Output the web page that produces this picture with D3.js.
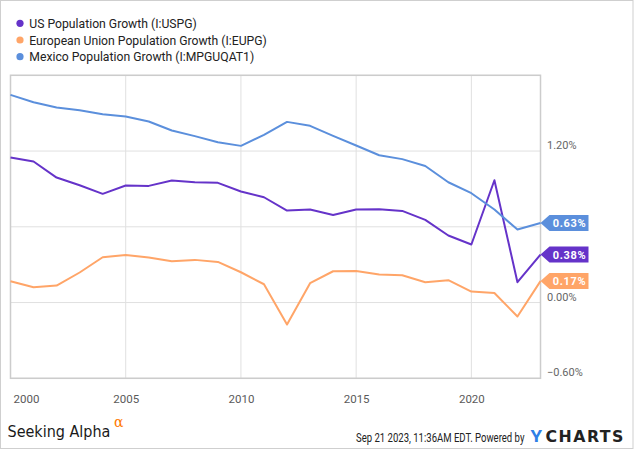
<!DOCTYPE html>
<html>
<head>
<meta charset="utf-8">
<script src="https://cdn.jsdelivr.net/npm/d3@7"></script>
<style>
  html, body { margin: 0; padding: 0; background: #fff; }
  svg { display: block; font-family: Roboto, "Noto Sans", sans-serif; }
</style>
</head>
<body>
<svg id="chart" width="635" height="450"></svg>
<script>
// ---- data ----
const years = [2000,2001,2002,2003,2004,2005,2006,2007,2008,2009,2010,2011,2012,2013,2014,2015,2016,2017,2018,2019,2020,2021,2022,2023];
const usGrowth = [1.149,1.117,0.990,0.929,0.861,0.927,0.924,0.967,0.953,0.948,0.880,0.834,0.729,0.737,0.694,0.737,0.739,0.726,0.655,0.531,0.460,0.969,0.161,0.38];
const euGrowth = [0.169,0.121,0.135,0.238,0.359,0.377,0.357,0.327,0.338,0.322,0.240,0.145,-0.174,0.153,0.248,0.250,0.222,0.216,0.161,0.177,0.087,0.076,-0.111,0.17];
const mxGrowth = [1.645,1.587,1.545,1.524,1.492,1.474,1.434,1.363,1.318,1.270,1.241,1.328,1.431,1.400,1.320,1.244,1.167,1.136,1.082,0.953,0.866,0.737,0.578,0.63];
const seriesNames = ["US Population Growth (I:USPG)", "European Union Population Growth (I:EUPG)", "Mexico Population Growth (I:MPGUQAT1)"];
const seriesColors = ["#6533c9", "#ffa568", "#5b8fdc"];
const xTickYears = [2000, 2005, 2010, 2015, 2020];
const yGridValues = [1.8, 1.2, 0.6, 0.0, -0.6];
const yTickLabels = [1.2, 0.0, -0.6];

const series = [usGrowth, euGrowth, mxGrowth];

const svg = d3.select("#chart");

// outer border
svg.append("rect").attr("x", 0.5).attr("y", 0.5).attr("width", 632.5).attr("height", 448)
  .attr("fill", "none").attr("stroke", "#cfcfcf").attr("stroke-width", 1);

const x = d3.scaleLinear().domain([2000, 2023]).range([10.5, 540.5]);
const y = d3.scaleLinear().domain([-0.6, 1.8]).range([378.3, 75.3]);

// gridlines
const grid = svg.append("g");
grid.selectAll("line.h").data(yGridValues).join("line")
  .attr("x1", x(2000)).attr("x2", x(2023))
  .attr("y1", d => y(d)).attr("y2", d => y(d))
  .attr("stroke", "#e0e0e0").attr("stroke-width", 1);
grid.selectAll("line.v").data(xTickYears.filter(d => d > 2000)).join("line")
  .attr("x1", d => x(d)).attr("x2", d => x(d))
  .attr("y1", y(1.8)).attr("y2", y(-0.6))
  .attr("stroke", "#e0e0e0").attr("stroke-width", 1);

// plot border
svg.append("rect").attr("x", x(2000)).attr("y", y(1.8))
  .attr("width", x(2023) - x(2000)).attr("height", y(-0.6) - y(1.8))
  .attr("fill", "none").attr("stroke", "#cccccc").attr("stroke-width", 1.5);

// x axis labels
const xAxis = d3.axisBottom(x).tickValues(xTickYears).tickFormat(d3.format("d")).tickSize(0).tickPadding(0);
const gx = svg.append("g").attr("transform", `translate(0, ${y(-0.6)})`).call(xAxis);
gx.select(".domain").remove();
gx.selectAll("text")
  .attr("y", 24.5).attr("dy", null)
  .attr("fill", "#5a5a5a").style("font-size", "11.5px").style("font-family", "Roboto, sans-serif")
  .attr("text-anchor", d => d === 2000 ? "start" : "middle")
  .attr("x", d => d === 2000 ? 2.5 : 0);

// y axis labels (right)
const yAxis = d3.axisRight(y).tickValues(yTickLabels).tickFormat(d => d3.format(".2f")(d).replace("-0.00","0.00") + "%").tickSize(0).tickPadding(0);
const gy = svg.append("g").attr("transform", `translate(${x(2023) + 6.5}, 0)`).call(yAxis);
gy.select(".domain").remove();
gy.selectAll("text")
  .attr("dy", null).attr("y", -2.5).attr("x", 0)
  .attr("fill", "#666").style("font-size", "11px").style("font-family", "Roboto, sans-serif")
  .attr("text-anchor", "start");

// lines
const line = d3.line().x((d, i) => x(years[i])).y(d => y(d));
svg.append("g").selectAll("path").data(series).join("path")
  .attr("d", d => line(d))
  .attr("fill", "none")
  .attr("stroke", (d, i) => seriesColors[i])
  .attr("stroke-width", 2)
  .attr("stroke-linejoin", "round");

// end flags
const flags = svg.append("g");
series.forEach((s, i) => {
  const v = s[s.length - 1];
  const cy = y(v);
  const x0 = x(2023);
  const g = flags.append("g");
  g.append("path")
    .attr("d", `M${x0},${cy} L${x0 + 9},${cy - 8} L${x0 + 48},${cy - 8} L${x0 + 48},${cy + 8} L${x0 + 9},${cy + 8} Z`)
    .attr("fill", seriesColors[i]);
  g.append("text")
    .attr("x", x0 + 29).attr("y", cy + 4)
    .attr("text-anchor", "middle")
    .attr("fill", "#fff")
    .style("font-size", "11px").style("font-weight", "bold").style("letter-spacing", "0.6px")
    .text(d3.format(".2f")(v) + "%");
});

// legend
const legend = svg.append("g");
seriesNames.forEach((name, i) => {
  const ly = 23.3 + i * 16.7;
  legend.append("circle").attr("cx", 20).attr("cy", ly).attr("r", 3.6).attr("fill", seriesColors[i]);
  legend.append("text").attr("x", 29.3).attr("y", ly + 4.5)
    .attr("fill", "#222").style("font-size", "12.2px")
    .text(name);
});

// helper: place text at (tx, ty) and horizontally scale it to a target width
function fitText(str, tx, ty, width, font, size, weight, fill, spacing) {
  const t = svg.append("text").attr("x", 0).attr("y", 0)
    .style("font-family", font).style("font-size", size + "px").style("font-weight", weight)
    .style("letter-spacing", (spacing || 0) + "px")
    .attr("fill", fill).text(str);
  const w = t.node().getBBox().width;
  const k = width / w;
  t.attr("transform", `translate(${tx},${ty}) scale(${k},1)`);
  return t;
}

// footer: Seeking Alpha
fitText("Seeking Alpha", 7.5, 437, 103, "'DejaVu Sans', sans-serif", 15.5, "normal", "#1a1a1a", 0);
svg.append("text").attr("x", 114).attr("y", 427)
  .style("font-family", "'DejaVu Serif', serif").style("font-size", "14px")
  .attr("fill", "#ff7a00")
  .text("α");

// footer right
fitText("Sep 21 2023, 11:36AM EDT.  Powered by", 356, 441.5, 169, "Roboto, sans-serif", 12, "normal", "#222", 0);
fitText("Y", 530.5, 442, 12.5, "Roboto, sans-serif", 16.5, "bold", "#2f80e6", 0);
fitText("CHARTS", 545.5, 442, 79.5, "'DejaVu Sans', sans-serif", 16, "bold", "#222", 1.5);
</script>
</body>
</html>
